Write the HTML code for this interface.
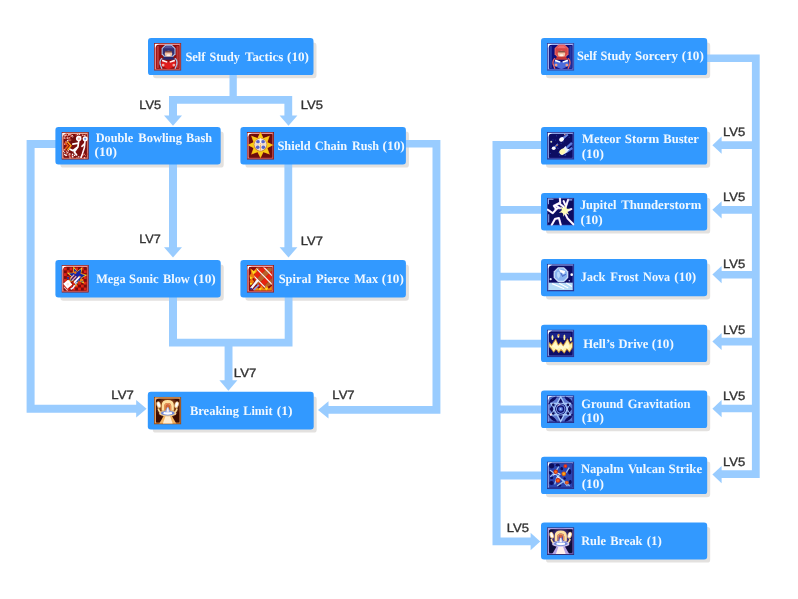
<!DOCTYPE html>
<html lang="en"><head><meta charset="utf-8"><title>Skill Tree</title>
<style>
html,body{margin:0;padding:0;background:#fff;}
body{width:798px;height:599px;overflow:hidden;}
svg{display:block;}
.sk{font-family:"Liberation Serif",serif;font-weight:bold;font-size:12.9px;fill:#fff;fill-opacity:0.93;text-rendering:geometricPrecision;}
.lv{font-family:"Liberation Sans",sans-serif;font-size:12.2px;fill:#333333;stroke:#333;stroke-width:0.35px;text-rendering:geometricPrecision;}
</style></head><body>
<svg width="798" height="599" viewBox="0 0 798 599">
<defs><clipPath id="ic"><rect width="27" height="27"/></clipPath><filter id="soft" x="-5%" y="-5%" width="110%" height="110%"><feGaussianBlur stdDeviation="0.45"/></filter><filter id="shsoft" x="-5%" y="-5%" width="110%" height="110%"><feGaussianBlur stdDeviation="0.7"/></filter><filter id="tsoft" x="-5%" y="-20%" width="110%" height="140%"><feGaussianBlur stdDeviation="0.5"/></filter><filter id="isoft" x="-5%" y="-5%" width="110%" height="110%"><feGaussianBlur stdDeviation="0.65"/></filter></defs>
<rect width="798" height="599" fill="#fff"/>
<g filter="url(#soft)">
<g fill="#e3e1df" filter="url(#shsoft)">
<path d="M156.2,42.6H313.3Q315.06,42.6 315.78,43.32L315.78,43.32Q316.5,44.04 316.5,45.8V75.1Q316.5,76.86 315.78,77.58Q315.06,78.3 313.3,78.3H156.2Q154.44,78.3 153.72,77.58Q153,76.86 153,75.1V45.8Q153,44.04 153.72,43.32Q154.44,42.6 156.2,42.6Z"/>
<path d="M63.6,131.6H220.5Q222.26,131.6 222.98,132.32L222.98,132.32Q223.7,133.04 223.7,134.8V164.4Q223.7,166.16 222.98,166.88Q222.26,167.6 220.5,167.6H63.6Q61.84,167.6 61.12,166.88Q60.4,166.16 60.4,164.4V134.8Q60.4,133.04 61.12,132.32Q61.84,131.6 63.6,131.6Z"/>
<path d="M248.6,131.6H405.7Q407.46,131.6 408.18,132.32L408.18,132.32Q408.9,133.04 408.9,134.8V164.4Q408.9,166.16 408.18,166.88Q407.46,167.6 405.7,167.6H248.6Q246.84,167.6 246.12,166.88Q245.4,166.16 245.4,164.4V134.8Q245.4,133.04 246.12,132.32Q246.84,131.6 248.6,131.6Z"/>
<path d="M63.6,264.6H220.5Q222.26,264.6 222.98,265.32L222.98,265.32Q223.7,266.04 223.7,267.8V297.5Q223.7,299.26 222.98,299.98Q222.26,300.7 220.5,300.7H63.6Q61.84,300.7 61.12,299.98Q60.4,299.26 60.4,297.5V267.8Q60.4,266.04 61.12,265.32Q61.84,264.6 63.6,264.6Z"/>
<path d="M248.6,264.6H405.7Q407.46,264.6 408.18,265.32L408.18,265.32Q408.9,266.04 408.9,267.8V297.5Q408.9,299.26 408.18,299.98Q407.46,300.7 405.7,300.7H248.6Q246.84,300.7 246.12,299.98Q245.4,299.26 245.4,297.5V267.8Q245.4,266.04 246.12,265.32Q246.84,264.6 248.6,264.6Z"/>
<path d="M156,396.4H313.5Q315.26,396.4 315.98,397.12L315.98,397.12Q316.7,397.84 316.7,399.6V429.4Q316.7,431.16 315.98,431.88Q315.26,432.6 313.5,432.6H156Q154.24,432.6 153.52,431.88Q152.8,431.16 152.8,429.4V399.6Q152.8,397.84 153.52,397.12Q154.24,396.4 156,396.4Z"/>
<path d="M549.2,42.6H707Q708.76,42.6 709.48,43.32L709.48,43.32Q710.2,44.04 710.2,45.8V75.1Q710.2,76.86 709.48,77.58Q708.76,78.3 707,78.3H549.2Q547.44,78.3 546.72,77.58Q546,76.86 546,75.1V45.8Q546,44.04 546.72,43.32Q547.44,42.6 549.2,42.6Z"/>
<path d="M549.2,131.6H707Q708.76,131.6 709.48,132.32L709.48,132.32Q710.2,133.04 710.2,134.8V164.6Q710.2,166.36 709.48,167.08Q708.76,167.8 707,167.8H549.2Q547.44,167.8 546.72,167.08Q546,166.36 546,164.6V134.8Q546,133.04 546.72,132.32Q547.44,131.6 549.2,131.6Z"/>
<path d="M549.2,197.7H707Q708.76,197.7 709.48,198.42L709.48,198.42Q710.2,199.14 710.2,200.9V230.4Q710.2,232.16 709.48,232.88Q708.76,233.6 707,233.6H549.2Q547.44,233.6 546.72,232.88Q546,232.16 546,230.4V200.9Q546,199.14 546.72,198.42Q547.44,197.7 549.2,197.7Z"/>
<path d="M549.2,263.6H707Q708.76,263.6 709.48,264.32L709.48,264.32Q710.2,265.04 710.2,266.8V296.2Q710.2,297.96 709.48,298.68Q708.76,299.4 707,299.4H549.2Q547.44,299.4 546.72,298.68Q546,297.96 546,296.2V266.8Q546,265.04 546.72,264.32Q547.44,263.6 549.2,263.6Z"/>
<path d="M549.2,329.4H707Q708.76,329.4 709.48,330.12L709.48,330.12Q710.2,330.84 710.2,332.6V362.1Q710.2,363.86 709.48,364.58Q708.76,365.3 707,365.3H549.2Q547.44,365.3 546.72,364.58Q546,363.86 546,362.1V332.6Q546,330.84 546.72,330.12Q547.44,329.4 549.2,329.4Z"/>
<path d="M549.2,395.2H707Q708.76,395.2 709.48,395.92L709.48,395.92Q710.2,396.64 710.2,398.4V428.1Q710.2,429.86 709.48,430.58Q708.76,431.3 707,431.3H549.2Q547.44,431.3 546.72,430.58Q546,429.86 546,428.1V398.4Q546,396.64 546.72,395.92Q547.44,395.2 549.2,395.2Z"/>
<path d="M549.2,461.4H707Q708.76,461.4 709.48,462.12L709.48,462.12Q710.2,462.84 710.2,464.6V494.1Q710.2,495.86 709.48,496.58Q708.76,497.3 707,497.3H549.2Q547.44,497.3 546.72,496.58Q546,495.86 546,494.1V464.6Q546,462.84 546.72,462.12Q547.44,461.4 549.2,461.4Z"/>
<path d="M549.2,527.1H707Q708.76,527.1 709.48,527.82L709.48,527.82Q710.2,528.54 710.2,530.3V559.4Q710.2,561.16 709.48,561.88Q708.76,562.6 707,562.6H549.2Q547.44,562.6 546.72,561.88Q546,561.16 546,559.4V530.3Q546,528.54 546.72,527.82Q547.44,527.1 549.2,527.1Z"/>
</g>
<g fill="#99ccff">
<path fill-rule="nonzero" d="M229.5,74H236.8V103.8H229.5ZM169,96H292.2V103.8H169ZM169,96H177V116H169ZM284.4,96H292.2V116H284.4ZM169,163H177V248H169ZM284.4,163H292.2V248H284.4ZM169,296H177V346.5H169ZM284.7,296H292.5V346.5H284.7ZM169,338.8H292.5V346.5H169ZM224.6,338.8H232.5V381H224.6ZM26.6,140H56V148H26.6ZM26.6,140H34.6V412.7H26.6ZM26.6,404.8H137V412.7H26.6ZM405,140H440.4V147.6H405ZM432.5,140H440.4V413.8H432.5ZM328,406H440.4V413.8H328ZM706,54.4H759.7V62H706ZM751.9,54.4H759.7V478.1H751.9ZM492.5,141H500.6V545.2H492.5ZM492.5,141H542V149.1H492.5ZM492.5,205.9H542V213.8H492.5ZM492.5,272.8H542V280.6H492.5ZM492.5,339.8H542V347.5H492.5ZM492.5,405.6H542V413.5H492.5ZM492.5,471.5H542V479.4H492.5ZM492.5,537.5H531V545.2H492.5ZM721,141.2H759.7V149H721ZM721,206H759.7V213.8H721ZM721,270.9H759.7V278.5H721ZM721,337.8H759.7V345.4H721ZM721,404.8H759.7V412.3H721ZM721,470.3H759.7V478.1H721Z"/>
<polygon points="164,115.6 182,115.6 173,125.8"/>
<polygon points="279.6,115.6 297.4,115.6 288.5,125.8"/>
<polygon points="164,247.2 182,247.2 173,257.6"/>
<polygon points="279.6,247.2 297.4,247.2 288.5,257.6"/>
<polygon points="219.4,380.2 237.4,380.2 228.4,390.8"/>
<polygon points="136.2,400 136.2,417.5 146.6,408.75"/>
<polygon points="530.6,532.7 530.6,550.3 540.2,541.5"/>
<polygon points="328.5,401.2 328.5,418.6 318,409.9"/>
<polygon points="721.6,136.5 721.6,153.8 712.4,145.15"/>
<polygon points="721.6,201.2 721.6,218.5 712.4,209.85"/>
<polygon points="721.6,266 721.6,283.2 712.4,274.6"/>
<polygon points="721.6,333 721.6,350.1 712.4,341.55"/>
<polygon points="721.6,400 721.6,417.3 712.4,408.65"/>
<polygon points="721.6,466 721.6,483.2 712.4,474.6"/>
</g>
<g fill="#3399ff">
<path d="M151.2,38H310.3Q312.06,38 312.78,38.72L312.78,38.72Q313.5,39.44 313.5,41.2V71.9Q313.5,73.66 312.78,74.38Q312.06,75.1 310.3,75.1H151.2Q149.44,75.1 148.72,74.38Q148,73.66 148,71.9V41.2Q148,39.44 148.72,38.72Q149.44,38 151.2,38Z"/>
<path d="M58.6,127H217.5Q219.26,127 219.98,127.72L219.98,127.72Q220.7,128.44 220.7,130.2V161.2Q220.7,162.96 219.98,163.68Q219.26,164.4 217.5,164.4H58.6Q56.84,164.4 56.12,163.68Q55.4,162.96 55.4,161.2V130.2Q55.4,128.44 56.12,127.72Q56.84,127 58.6,127Z"/>
<path d="M243.6,127H402.7Q404.46,127 405.18,127.72L405.18,127.72Q405.9,128.44 405.9,130.2V161.2Q405.9,162.96 405.18,163.68Q404.46,164.4 402.7,164.4H243.6Q241.84,164.4 241.12,163.68Q240.4,162.96 240.4,161.2V130.2Q240.4,128.44 241.12,127.72Q241.84,127 243.6,127Z"/>
<path d="M58.6,260H217.5Q219.26,260 219.98,260.72L219.98,260.72Q220.7,261.44 220.7,263.2V294.3Q220.7,296.06 219.98,296.78Q219.26,297.5 217.5,297.5H58.6Q56.84,297.5 56.12,296.78Q55.4,296.06 55.4,294.3V263.2Q55.4,261.44 56.12,260.72Q56.84,260 58.6,260Z"/>
<path d="M243.6,260H402.7Q404.46,260 405.18,260.72L405.18,260.72Q405.9,261.44 405.9,263.2V294.3Q405.9,296.06 405.18,296.78Q404.46,297.5 402.7,297.5H243.6Q241.84,297.5 241.12,296.78Q240.4,296.06 240.4,294.3V263.2Q240.4,261.44 241.12,260.72Q241.84,260 243.6,260Z"/>
<path d="M151,391.8H310.5Q312.26,391.8 312.98,392.52L312.98,392.52Q313.7,393.24 313.7,395V426.2Q313.7,427.96 312.98,428.68Q312.26,429.4 310.5,429.4H151Q149.24,429.4 148.52,428.68Q147.8,427.96 147.8,426.2V395Q147.8,393.24 148.52,392.52Q149.24,391.8 151,391.8Z"/>
<path d="M544.2,38H704Q705.76,38 706.48,38.72L706.48,38.72Q707.2,39.44 707.2,41.2V71.9Q707.2,73.66 706.48,74.38Q705.76,75.1 704,75.1H544.2Q542.44,75.1 541.72,74.38Q541,73.66 541,71.9V41.2Q541,39.44 541.72,38.72Q542.44,38 544.2,38Z"/>
<path d="M544.2,127H704Q705.76,127 706.48,127.72L706.48,127.72Q707.2,128.44 707.2,130.2V161.4Q707.2,163.16 706.48,163.88Q705.76,164.6 704,164.6H544.2Q542.44,164.6 541.72,163.88Q541,163.16 541,161.4V130.2Q541,128.44 541.72,127.72Q542.44,127 544.2,127Z"/>
<path d="M544.2,193.1H704Q705.76,193.1 706.48,193.82L706.48,193.82Q707.2,194.54 707.2,196.3V227.2Q707.2,228.96 706.48,229.68Q705.76,230.4 704,230.4H544.2Q542.44,230.4 541.72,229.68Q541,228.96 541,227.2V196.3Q541,194.54 541.72,193.82Q542.44,193.1 544.2,193.1Z"/>
<path d="M544.2,259H704Q705.76,259 706.48,259.72L706.48,259.72Q707.2,260.44 707.2,262.2V293Q707.2,294.76 706.48,295.48Q705.76,296.2 704,296.2H544.2Q542.44,296.2 541.72,295.48Q541,294.76 541,293V262.2Q541,260.44 541.72,259.72Q542.44,259 544.2,259Z"/>
<path d="M544.2,324.8H704Q705.76,324.8 706.48,325.52L706.48,325.52Q707.2,326.24 707.2,328V358.9Q707.2,360.66 706.48,361.38Q705.76,362.1 704,362.1H544.2Q542.44,362.1 541.72,361.38Q541,360.66 541,358.9V328Q541,326.24 541.72,325.52Q542.44,324.8 544.2,324.8Z"/>
<path d="M544.2,390.6H704Q705.76,390.6 706.48,391.32L706.48,391.32Q707.2,392.04 707.2,393.8V424.9Q707.2,426.66 706.48,427.38Q705.76,428.1 704,428.1H544.2Q542.44,428.1 541.72,427.38Q541,426.66 541,424.9V393.8Q541,392.04 541.72,391.32Q542.44,390.6 544.2,390.6Z"/>
<path d="M544.2,456.8H704Q705.76,456.8 706.48,457.52L706.48,457.52Q707.2,458.24 707.2,460V490.9Q707.2,492.66 706.48,493.38Q705.76,494.1 704,494.1H544.2Q542.44,494.1 541.72,493.38Q541,492.66 541,490.9V460Q541,458.24 541.72,457.52Q542.44,456.8 544.2,456.8Z"/>
<path d="M544.2,522.5H704Q705.76,522.5 706.48,523.22L706.48,523.22Q707.2,523.94 707.2,525.7V556.2Q707.2,557.96 706.48,558.68Q705.76,559.4 704,559.4H544.2Q542.44,559.4 541.72,558.68Q541,557.96 541,556.2V525.7Q541,523.94 541.72,523.22Q542.44,522.5 544.2,522.5Z"/>
</g>
</g>
<g transform="translate(154,43) scale(1.012,1.024)" filter="url(#isoft)"><g clip-path="url(#ic)"><rect width="27" height="27" fill="#8a2020"/><rect x="0.8" y="0.8" width="25.4" height="25.4" fill="#c85858"/><path d="M0.8,0.8h25.4l-1.2,1.2h-23v23l-1.2,1.2z" fill="#ec9090"/><rect x="1.9" y="1.9" width="23.2" height="23.2" rx="1" fill="#8c0a0a"/><path d="M0.9,0.9h4.2l-2.6,1.4l-1.6,2.6z" fill="#ffffff"/><rect x="2.6" y="3" width="2.2" height="21.4" fill="#bc3434"/><rect x="22.2" y="3" width="2.2" height="21.4" fill="#bc3434"/><path d="M11.4,1.5h6l3.9,3.7v5.8l-2.5,2.6h-8.8l-2.5,-2.6v-5.8z" fill="#a8c2ea"/><path d="M11.8,2.6h5.2l3.2,3v5l-1.8,1.8h-8l-1.8,-1.8v-5z" fill="#332e70"/><path d="M12,3h4.8l2.4,2.2h-9.6z" fill="#55529a"/><ellipse cx="14.3" cy="10.6" rx="3.7" ry="3.1" fill="#f2c2a2"/><rect x="11" y="7.9" width="6.8" height="1.4" rx="0.6" fill="#7c4646"/><ellipse cx="14.3" cy="12" rx="2" ry="0.9" fill="#fff2ea"/><path d="M9.8,13.4h9l1.6,3h-12.2z" fill="#2c2c6c"/><path d="M8,14.8q-2.8,2.2-1.9,6l1.7,4.4M20.6,14.8q2.8,2.2,1.9,6l-1.7,4.4" stroke="#a8c2ea" stroke-width="1.3" fill="none"/><path d="M7.8,16.3l6.5,2.6l6.5,-2.6l1.1,5.9l-7.6,3.5l-7.6,-3.5z" fill="#e01c1c"/><path d="M8.2,16l5.2,2l-0.6,1.4l-5,-1.6zM20.4,16l-5.2,2l0.6,1.4l5,-1.6z" fill="#fff2f2"/><circle cx="9" cy="21.6" r="1.4" fill="#f0b0a8"/><circle cx="19.6" cy="21.6" r="1.4" fill="#f0b0a8"/></g></g>
<g transform="translate(61.5,132) scale(1.012,1.024)" filter="url(#isoft)"><g clip-path="url(#ic)"><rect width="27" height="27" fill="#7c1414"/><rect x="0.8" y="0.8" width="25.4" height="25.4" fill="#d07060"/><path d="M0.8,0.8h25.4l-1.2,1.2h-23v23l-1.2,1.2z" fill="#eea898"/><rect x="1.9" y="1.9" width="23.2" height="23.2" rx="1" fill="#7a0a0a"/><path d="M0.9,0.9h4.2l-2.6,1.4l-1.6,2.6z" fill="#ffffff"/><rect x="4.6" y="2.5" width="0.9" height="0.9" fill="#ffffff"/><rect x="9.3" y="2.1" width="0.9" height="0.9" fill="#c84038"/><rect x="10.1" y="2.9" width="1.1" height="1.1" fill="#ffffff"/><rect x="5.5" y="3.1" width="1.1" height="1.1" fill="#c84038"/><rect x="2.1" y="5.2" width="1.4" height="1.4" fill="#f8c0b8"/><rect x="7.5" y="7.7" width="1.4" height="1.4" fill="#c84038"/><rect x="5.3" y="7.8" width="1.4" height="1.4" fill="#ffffff"/><rect x="9.7" y="3.4" width="1.4" height="1.4" fill="#f8c0b8"/><rect x="2.6" y="3.5" width="0.9" height="0.9" fill="#f8c0b8"/><rect x="7.0" y="5.7" width="0.9" height="0.9" fill="#e89080"/><rect x="6.7" y="1.9" width="1.4" height="1.4" fill="#ffffff"/><rect x="3.5" y="5.9" width="1.1" height="1.1" fill="#d85848"/><rect x="5.9" y="7.5" width="1.1" height="1.1" fill="#e89080"/><rect x="3.9" y="2.7" width="0.9" height="0.9" fill="#f8c0b8"/><rect x="7.0" y="4.9" width="1.4" height="1.4" fill="#e89080"/><rect x="5.8" y="5.5" width="0.9" height="0.9" fill="#ffffff"/><rect x="6.4" y="2.6" width="0.9" height="0.9" fill="#e89080"/><rect x="10.4" y="4.2" width="1.4" height="1.4" fill="#ffffff"/><rect x="6.9" y="7.2" width="1.1" height="1.1" fill="#e89080"/><rect x="8.1" y="5.4" width="1.1" height="1.1" fill="#c84038"/><rect x="2.2" y="2.1" width="1.1" height="1.1" fill="#e89080"/><rect x="8.1" y="1.9" width="1.4" height="1.4" fill="#e89080"/><rect x="7.0" y="5.9" width="1.1" height="1.1" fill="#d85848"/><rect x="8.3" y="7.3" width="0.9" height="0.9" fill="#e89080"/><rect x="10.4" y="3.8" width="0.9" height="0.9" fill="#c84038"/><rect x="6.2" y="2.9" width="0.9" height="0.9" fill="#e89080"/><rect x="8.5" y="4.1" width="0.9" height="0.9" fill="#d85848"/><rect x="3.1" y="4.1" width="0.9" height="0.9" fill="#e89080"/><rect x="9.3" y="7.1" width="1.4" height="1.4" fill="#e89080"/><rect x="5.4" y="3.8" width="0.9" height="0.9" fill="#d85848"/><rect x="2.9" y="2.6" width="1.4" height="1.4" fill="#f8c0b8"/><rect x="3.7" y="4.7" width="0.9" height="0.9" fill="#c84038"/><rect x="4.0" y="1.5" width="1.4" height="1.4" fill="#d85848"/><rect x="5.0" y="5.2" width="1.4" height="1.4" fill="#f8c0b8"/><rect x="7.9" y="24.6" width="1.1" height="1.1" fill="#ffffff"/><rect x="8.2" y="23.2" width="1.1" height="1.1" fill="#c84038"/><rect x="4.5" y="20.2" width="1.4" height="1.4" fill="#d85848"/><rect x="4.5" y="18.5" width="1.1" height="1.1" fill="#f8c0b8"/><rect x="2.7" y="19.7" width="0.9" height="0.9" fill="#ffffff"/><rect x="1.5" y="18.2" width="1.1" height="1.1" fill="#ffffff"/><rect x="6.1" y="17.6" width="1.4" height="1.4" fill="#f8c0b8"/><rect x="4.3" y="22.1" width="1.4" height="1.4" fill="#e89080"/><rect x="4.2" y="18.0" width="1.1" height="1.1" fill="#d85848"/><rect x="5.1" y="19.5" width="0.9" height="0.9" fill="#f8c0b8"/><rect x="7.1" y="22.9" width="1.4" height="1.4" fill="#d85848"/><rect x="2.7" y="17.2" width="1.1" height="1.1" fill="#c84038"/><rect x="2.6" y="21.3" width="1.4" height="1.4" fill="#ffffff"/><rect x="3.7" y="22.1" width="1.4" height="1.4" fill="#ffffff"/><rect x="7.8" y="21.1" width="1.1" height="1.1" fill="#f8c0b8"/><rect x="7.3" y="21.3" width="1.1" height="1.1" fill="#c84038"/><rect x="6.3" y="21.9" width="0.9" height="0.9" fill="#f8c0b8"/><rect x="7.6" y="22.9" width="0.9" height="0.9" fill="#f8c0b8"/><rect x="5.4" y="19.8" width="0.9" height="0.9" fill="#ffffff"/><rect x="7.4" y="20.8" width="1.4" height="1.4" fill="#f8c0b8"/><rect x="6.0" y="19.8" width="1.1" height="1.1" fill="#e89080"/><rect x="2.1" y="17.8" width="0.9" height="0.9" fill="#d85848"/><rect x="13.7" y="22.9" width="0.9" height="0.9" fill="#c84038"/><rect x="16.2" y="23.6" width="1.4" height="1.4" fill="#ffffff"/><rect x="10.0" y="22.6" width="1.1" height="1.1" fill="#f8c0b8"/><rect x="23.1" y="22.7" width="0.9" height="0.9" fill="#e89080"/><rect x="21.6" y="24.9" width="1.1" height="1.1" fill="#d85848"/><rect x="14.8" y="24.8" width="0.9" height="0.9" fill="#f8c0b8"/><rect x="24.9" y="21.1" width="1.1" height="1.1" fill="#c84038"/><rect x="21.7" y="21.6" width="1.1" height="1.1" fill="#c84038"/><rect x="19.2" y="22.4" width="1.4" height="1.4" fill="#c84038"/><rect x="10.2" y="21.1" width="1.4" height="1.4" fill="#ffffff"/><rect x="20.7" y="21.6" width="0.9" height="0.9" fill="#f8c0b8"/><rect x="8.5" y="21.9" width="0.9" height="0.9" fill="#c84038"/><rect x="21.0" y="22.3" width="1.1" height="1.1" fill="#c84038"/><rect x="22.2" y="21.2" width="1.1" height="1.1" fill="#e89080"/><rect x="19.3" y="24.3" width="1.1" height="1.1" fill="#c84038"/><rect x="22.1" y="24.5" width="1.4" height="1.4" fill="#f8c0b8"/><rect x="10.6" y="23.0" width="0.9" height="0.9" fill="#d85848"/><rect x="18.3" y="24.1" width="0.9" height="0.9" fill="#f8c0b8"/><rect x="10.4" y="23.5" width="1.4" height="1.4" fill="#ffffff"/><rect x="9.0" y="23.7" width="1.4" height="1.4" fill="#c84038"/><rect x="16.2" y="24.1" width="0.9" height="0.9" fill="#c84038"/><rect x="12.2" y="22.1" width="1.4" height="1.4" fill="#ffffff"/><rect x="17.3" y="1.6" width="1.1" height="1.1" fill="#ffffff"/><rect x="15.6" y="3.9" width="1.4" height="1.4" fill="#c84038"/><rect x="13.8" y="2.2" width="1.4" height="1.4" fill="#c84038"/><rect x="22.3" y="2.8" width="1.4" height="1.4" fill="#f8c0b8"/><rect x="18.3" y="3.7" width="1.4" height="1.4" fill="#e89080"/><rect x="23.5" y="2.0" width="0.9" height="0.9" fill="#d85848"/><rect x="16.8" y="2.5" width="0.9" height="0.9" fill="#e89080"/><rect x="20.4" y="2.6" width="1.4" height="1.4" fill="#f8c0b8"/><rect x="15.2" y="1.8" width="1.4" height="1.4" fill="#f8c0b8"/><rect x="20.0" y="2.4" width="0.9" height="0.9" fill="#e89080"/><rect x="3.9" y="10.0" width="1.1" height="1.1" fill="#ffffff"/><rect x="3.7" y="9.5" width="0.9" height="0.9" fill="#f8c0b8"/><rect x="3.3" y="16.9" width="1.1" height="1.1" fill="#d85848"/><rect x="2.6" y="11.2" width="1.4" height="1.4" fill="#ffffff"/><rect x="2.4" y="11.0" width="1.1" height="1.1" fill="#d85848"/><rect x="3.3" y="11.5" width="1.4" height="1.4" fill="#c84038"/><rect x="2.2" y="16.6" width="0.9" height="0.9" fill="#ffffff"/><rect x="3.9" y="8.9" width="1.1" height="1.1" fill="#e89080"/><path d="M9,6q5,-3 9,-1l-4,6l-4,1z" fill="#6a0606" opacity="0.8"/><path d="M3.4,10l3,3.4l-3,3.4" stroke="#f05a10" stroke-width="1.5" fill="none"/><path d="M5.8,9.2l3.6,4.2l-3.6,4.2" stroke="#f8a418" stroke-width="1.4" fill="none"/><circle cx="17" cy="6.4" r="2.7" fill="#ffffff"/><circle cx="17.1" cy="6.6" r="1.2" fill="#f0b0a8"/><path d="M17,9l-0.8,5.6l-3.6,4.8l2.4,3M16.4,10.8l-5.2,1M16,14.6l-4.8,3.6l-2.8,-1.4" stroke="#ffffff" stroke-width="1.7" fill="none" stroke-linecap="round" stroke-linejoin="round"/><circle cx="23.4" cy="6.6" r="2.5" fill="#ffffff"/><circle cx="23.4" cy="6.6" r="1.1" fill="#7898e8"/><path d="M23.2,9l-0.6,6.4l-2,6l-1.2,3.2M22.8,11.4l-2.6,2.6" stroke="#fff4f4" stroke-width="1.6" fill="none" stroke-linecap="round" stroke-linejoin="round"/></g></g>
<g transform="translate(246.8,132) scale(1.012,1.024)" filter="url(#isoft)"><g clip-path="url(#ic)"><rect width="27" height="27" fill="#7c1818"/><rect x="0.8" y="0.8" width="25.4" height="25.4" fill="#c05050"/><path d="M0.8,0.8h25.4l-1.2,1.2h-23v23l-1.2,1.2z" fill="#e89090"/><rect x="1.9" y="1.9" width="23.2" height="23.2" rx="1" fill="#6c0808"/><path d="M0.9,0.9h4.2l-2.6,1.4l-1.6,2.6z" fill="#ffffff"/><polygon points="13.5,-0.6 16.4,5.8 23.0,3.3 20.5,9.9 26.9,12.8 20.5,15.7 23.0,22.3 16.4,19.8 13.5,26.2 10.6,19.8 4.0,22.3 6.5,15.7 0.1,12.8 6.5,9.9 4.0,3.3 10.6,5.8" fill="#e07c10"/><polygon points="13.5,0.6 16.3,6.1 22.1,4.2 20.2,10.0 25.7,12.8 20.2,15.6 22.1,21.4 16.3,19.5 13.5,25.0 10.7,19.5 4.9,21.4 6.8,15.6 1.3,12.8 6.8,10.0 4.9,4.2 10.7,6.1" fill="#f8cc18"/><circle cx="13.5" cy="12.4" r="6.6" fill="#c87830"/><circle cx="13.5" cy="12.3" r="6" fill="#f2e0cc"/><ellipse cx="11.1" cy="9.4" rx="1.9" ry="1.7" fill="#5464cc"/><ellipse cx="16" cy="9.4" rx="1.9" ry="1.7" fill="#5464cc"/><ellipse cx="10.8" cy="15" rx="1.9" ry="1.7" fill="#5464cc"/><ellipse cx="16.3" cy="15" rx="1.9" ry="1.7" fill="#5464cc"/><rect x="12.8" y="6.2" width="1.5" height="12.4" fill="#fff8ee"/><rect x="13.2" y="11" width="0.8" height="7.4" fill="#f0a050"/><rect x="8" y="11.8" width="11" height="0.9" fill="#f4dcc0"/></g></g>
<g transform="translate(61.5,265) scale(1.012,1.024)" filter="url(#isoft)"><g clip-path="url(#ic)"><rect width="27" height="27" fill="#8a1c1c"/><rect x="0.8" y="0.8" width="25.4" height="25.4" fill="#c85858"/><path d="M0.8,0.8h25.4l-1.2,1.2h-23v23l-1.2,1.2z" fill="#ec9494"/><rect x="1.9" y="1.9" width="23.2" height="23.2" rx="1" fill="#7a0c0c"/><path d="M0.9,0.9h4.2l-2.6,1.4l-1.6,2.6z" fill="#ffffff"/><rect x="2.4" y="2.4" width="2.8" height="2.8" fill="#e02414"/><rect x="2.4" y="8.0" width="2.8" height="2.8" fill="#e02414"/><rect x="2.4" y="13.6" width="2.8" height="2.8" fill="#e02414"/><rect x="2.4" y="19.2" width="2.8" height="2.8" fill="#e02414"/><rect x="5.2" y="5.2" width="2.8" height="2.8" fill="#e02414"/><rect x="5.2" y="10.8" width="2.8" height="2.8" fill="#e02414"/><rect x="5.2" y="16.4" width="2.8" height="2.8" fill="#e02414"/><rect x="5.2" y="22.0" width="2.8" height="2.8" fill="#e02414"/><rect x="8.0" y="2.4" width="2.8" height="2.8" fill="#e02414"/><rect x="8.0" y="8.0" width="2.8" height="2.8" fill="#e02414"/><rect x="8.0" y="13.6" width="2.8" height="2.8" fill="#e02414"/><rect x="8.0" y="19.2" width="2.8" height="2.8" fill="#e02414"/><rect x="10.8" y="5.2" width="2.8" height="2.8" fill="#e02414"/><rect x="10.8" y="10.8" width="2.8" height="2.8" fill="#e02414"/><rect x="10.8" y="16.4" width="2.8" height="2.8" fill="#e02414"/><rect x="10.8" y="22.0" width="2.8" height="2.8" fill="#e02414"/><rect x="13.6" y="2.4" width="2.8" height="2.8" fill="#e02414"/><rect x="13.6" y="8.0" width="2.8" height="2.8" fill="#e02414"/><rect x="13.6" y="13.6" width="2.8" height="2.8" fill="#e02414"/><rect x="13.6" y="19.2" width="2.8" height="2.8" fill="#e02414"/><rect x="16.4" y="5.2" width="2.8" height="2.8" fill="#e02414"/><rect x="16.4" y="10.8" width="2.8" height="2.8" fill="#e02414"/><rect x="16.4" y="16.4" width="2.8" height="2.8" fill="#e02414"/><rect x="16.4" y="22.0" width="2.8" height="2.8" fill="#e02414"/><rect x="19.2" y="2.4" width="2.8" height="2.8" fill="#e02414"/><rect x="19.2" y="8.0" width="2.8" height="2.8" fill="#e02414"/><rect x="19.2" y="13.6" width="2.8" height="2.8" fill="#e02414"/><rect x="19.2" y="19.2" width="2.8" height="2.8" fill="#e02414"/><rect x="22.0" y="5.2" width="2.8" height="2.8" fill="#e02414"/><rect x="22.0" y="10.8" width="2.8" height="2.8" fill="#e02414"/><rect x="22.0" y="16.4" width="2.8" height="2.8" fill="#e02414"/><rect x="22.0" y="22.0" width="2.8" height="2.8" fill="#e02414"/><polygon points="20.7,2.0 19.4,8.3 25.7,9.7 19.9,12.6 22.8,18.4 16.9,15.7 14.1,21.5 12.6,15.3 6.3,16.7 10.2,11.6 5.2,7.6 11.6,7.5 11.6,1.0 15.7,6.0" fill="#f8d424"/><polygon points="19.5,4.0 18.9,8.6 23.3,10.0 19.4,12.4 21.1,16.7 16.7,15.1 14.4,19.2 12.9,14.8 8.3,15.4 10.8,11.5 7.4,8.4 12.1,7.9 12.4,3.3 15.6,6.6" fill="#1420a4"/><circle cx="13.6" cy="7.4" r="1.3" fill="#f07810"/><circle cx="19.4" cy="14.6" r="1.3" fill="#f08010"/><circle cx="6.4" cy="12.6" r="1.1" fill="#2030a0"/><path d="M8.8,13.2l3.8,-3.8M10.4,15.2l4.2,-4.2" stroke="#e8b0b8" stroke-width="1.2" fill="none"/><path d="M9.6,14.2l4,-4M11.4,16l4,-4" stroke="#901818" stroke-width="0.9" fill="none"/><path d="M12.4,17.2l5.6,-5.8" stroke="#ffffff" stroke-width="1.7" fill="none"/><circle cx="18" cy="11.4" r="0.9" fill="#f8a060"/><path d="M13.4,18.6l2,-2" stroke="#b8c8f0" stroke-width="1.4" fill="none"/><rect x="3" y="15.5" width="6.4" height="6.4" transform="rotate(-40 6.2 18.7)" fill="#ffffff"/><rect x="5" y="17.5" width="2.4" height="2.4" transform="rotate(-40 6.2 18.7)" fill="#ffe4dc"/><path d="M9,23.6l2.6,-1.4l1.4,-2.6" stroke="#f0ecff" stroke-width="1.6" fill="none"/><path d="M2.6,21.6l3.4,3.4" stroke="#f0c0c0" stroke-width="1" fill="none"/></g></g>
<g transform="translate(246.8,265) scale(1.012,1.024)" filter="url(#isoft)"><g clip-path="url(#ic)"><rect width="27" height="27" fill="#8a1a1a"/><rect x="0.8" y="0.8" width="25.4" height="25.4" fill="#d06060"/><path d="M0.8,0.8h25.4l-1.2,1.2h-23v23l-1.2,1.2z" fill="#f0a0a0"/><rect x="1.9" y="1.9" width="23.2" height="23.2" rx="1" fill="#8a0c0c"/><path d="M0.9,0.9h4.2l-2.6,1.4l-1.6,2.6z" fill="#ffffff"/><defs><clipPath id="spc"><path d="M9.6,2.4h15.2v16.6l-6.4,3.4l-8,-2l-3.6,-7.6l1.6,-7z"/></clipPath></defs><g clip-path="url(#spc)"><g transform="rotate(45 13.5 13.5)"><rect x="0.9" y="-2.4" width="5" height="5.6" fill="#b8602c"/><rect x="5.9" y="-2.4" width="5" height="5.6" fill="#e82410"/><rect x="10.9" y="-2.4" width="5" height="5.6" fill="#b8602c"/><rect x="15.9" y="-2.4" width="5" height="5.6" fill="#e82410"/><rect x="20.9" y="-2.4" width="5" height="5.6" fill="#b8602c"/><rect x="25.9" y="-2.4" width="5" height="5.6" fill="#e82410"/><rect x="0.9" y="3.7" width="5" height="5.6" fill="#b8602c"/><rect x="5.9" y="3.7" width="5" height="5.6" fill="#e82410"/><rect x="10.9" y="3.7" width="5" height="5.6" fill="#b8602c"/><rect x="15.9" y="3.7" width="5" height="5.6" fill="#e82410"/><rect x="20.9" y="3.7" width="5" height="5.6" fill="#b8602c"/><rect x="25.9" y="3.7" width="5" height="5.6" fill="#e82410"/><rect x="0.9" y="9.9" width="5" height="5.6" fill="#b8602c"/><rect x="5.9" y="9.9" width="5" height="5.6" fill="#e82410"/><rect x="10.9" y="9.9" width="5" height="5.6" fill="#b8602c"/><rect x="15.9" y="9.9" width="5" height="5.6" fill="#e82410"/><rect x="20.9" y="9.9" width="5" height="5.6" fill="#b8602c"/><rect x="25.9" y="9.9" width="5" height="5.6" fill="#e82410"/><rect x="0.9" y="16.6" width="5" height="5.6" fill="#b8602c"/><rect x="5.9" y="16.6" width="5" height="5.6" fill="#e82410"/><rect x="10.9" y="16.6" width="5" height="5.6" fill="#b8602c"/><rect x="15.9" y="16.6" width="5" height="5.6" fill="#e82410"/><rect x="20.9" y="16.6" width="5" height="5.6" fill="#b8602c"/><rect x="25.9" y="16.6" width="5" height="5.6" fill="#e82410"/><rect x="3" y="2.65" width="24" height="1.2" fill="#fff4f0"/><rect x="3" y="8.700000000000001" width="24" height="1.2" fill="#fff4f0"/><rect x="3" y="15.6" width="24" height="1.2" fill="#fff4f0"/></g></g><path d="M2.2,2.2h7l-3,4l-1,6l-1,6l2,6.6h-4z" fill="#8a0c0c"/><path d="M3.4,3.2l3.6,2.6l2.6,-3.2l0.6,4l-3,2.4l0.6,3l-2.4,1.6l2,2.8l-2.6,2.4l-2,-2.6l1.4,-3l-1.6,-2.6l1.8,-2.6z" fill="#f07a10"/><path d="M4.4,4.2l2.6,2.2l1.8,-2l-0.2,2.6l-2.4,2zM2.8,11l2.8,1.4l-2.2,1.8zM3,17l2.8,1l-2.2,2z" fill="#fce020"/><path d="M7,25l2.4,-4l2.6,2.6l2.4,-3.6l2.8,3.4l2.4,-3.4l2.2,3.2l3,-3v4.8z" fill="#f08a10"/><path d="M11.4,22.6l1.8,2.4l1.6,-2.6zM17.6,22.4l1.8,2.6l1.8,-2.8z" fill="#fcd820"/><path d="M4.2,23l6.8,-8.4" stroke="#f4f8ff" stroke-width="2.2" fill="none"/><path d="M6.6,24.4l5.4,-5" stroke="#8c98e4" stroke-width="1.6" fill="none"/><circle cx="4.4" cy="23.2" r="1" fill="#3040a8"/></g></g>
<g transform="translate(154,396.8) scale(1.012,1.024)" filter="url(#isoft)"><g clip-path="url(#ic)"><rect width="27" height="27" fill="#8c4418"/><rect x="0.8" y="0.8" width="25.4" height="25.4" fill="#b87034"/><path d="M0.8,0.8h25.4l-1.2,1.2h-23v23l-1.2,1.2z" fill="#e8ac70"/><rect x="1.9" y="1.9" width="23.2" height="23.2" rx="1" fill="#3a0c06"/><path d="M0.9,0.9h4.2l-2.6,1.4l-1.6,2.6z" fill="#e8ac70"/><defs><radialGradient id="glF" cx="0.5" cy="0.45" r="0.5"><stop offset="0" stop-color="#d87c28" stop-opacity="0.95"/><stop offset="0.6" stop-color="#d87c28" stop-opacity="0.55"/><stop offset="1" stop-color="#d87c28" stop-opacity="0"/></radialGradient></defs><ellipse cx="13.5" cy="11.5" rx="12" ry="11" fill="url(#glF)"/><path d="M10.2,17.5h6.8l5,8.6h-16.8z" fill="#f4b460"/><path d="M11.8,17.5h3.6l3,8.6h-9.6z" fill="#ffecd0"/><path d="M7.6,13.6v-5.4q0,-5 6,-5q6,0 6,5v5.4h-2.6v-4.6q0,-3 -3.4,-3q-3.4,0 -3.4,3v4.6z" fill="#ffe0a0"/><path d="M10.2,13v-4q0,-3 3.4,-3q3.4,0 3.4,3v4h-1.2v-3.4q0,-2.2-2.2,-2.2q-2.2,0-2.2,2.2v3.4z" fill="#e89058"/><ellipse cx="4.6" cy="7.8" rx="2.1" ry="3.4" transform="rotate(-18 4.6 7.8)" fill="#e8c088"/><ellipse cx="22.4" cy="7.8" rx="2.1" ry="3.4" transform="rotate(18 22.4 7.8)" fill="#e8c088"/><ellipse cx="4.6" cy="7.6" rx="1.3" ry="2.5" transform="rotate(-18 4.6 7.6)" fill="#ffffff"/><ellipse cx="22.4" cy="7.6" rx="1.3" ry="2.5" transform="rotate(18 22.4 7.6)" fill="#ffffff"/><path d="M4.2,11.4q1,4.2 4.6,5M22.8,11.4q-1,4.2-4.6,5" stroke="#f8dc98" stroke-width="1.6" fill="none"/><ellipse cx="13.6" cy="16.2" rx="8.6" ry="3" fill="#f0cc90"/><ellipse cx="13.6" cy="16" rx="6.8" ry="2.2" fill="#7088d8"/><ellipse cx="13.6" cy="16.1" rx="4.4" ry="1.4" fill="#ffffff"/><path d="M13.6,8.4l2.8,6.6h-5.6z" fill="#8ca4e8"/><path d="M13.6,9.2l1.3,5.4h-2.6z" fill="#fff4f0"/><circle cx="13.6" cy="9" r="1.4" fill="#d46040"/></g></g>
<g transform="translate(547,43) scale(1.012,1.024)" filter="url(#isoft)"><g clip-path="url(#ic)"><rect width="27" height="27" fill="#343a94"/><rect x="0.8" y="0.8" width="25.4" height="25.4" fill="#5868c8"/><path d="M0.8,0.8h25.4l-1.2,1.2h-23v23l-1.2,1.2z" fill="#a8b8f4"/><rect x="1.9" y="1.9" width="23.2" height="23.2" rx="1" fill="#0c0c7c"/><path d="M0.9,0.9h4.2l-2.6,1.4l-1.6,2.6z" fill="#ffffff"/><rect x="2.6" y="3" width="2.2" height="21.4" fill="#2838a4"/><rect x="22.2" y="3" width="2.2" height="21.4" fill="#2838a4"/><path d="M11.4,1.5h6l3.9,3.7v5.8l-2.5,2.6h-8.8l-2.5,-2.6v-5.8z" fill="#e86464"/><path d="M11.8,2.6h5.2l3.2,3v5l-1.8,1.8h-8l-1.8,-1.8v-5z" fill="#d44444"/><path d="M12,3h4.8l2.4,2.2h-9.6z" fill="#f06c6c"/><ellipse cx="14.3" cy="10.6" rx="3.7" ry="3.1" fill="#f2c2a2"/><rect x="11" y="7.9" width="6.8" height="1.4" rx="0.6" fill="#8a5040"/><ellipse cx="14.3" cy="12" rx="2" ry="0.9" fill="#fff2ea"/><path d="M9.8,13.4h9l1.6,3h-12.2z" fill="#c43434"/><path d="M8,14.8q-2.8,2.2-1.9,6l1.7,4.4M20.6,14.8q2.8,2.2,1.9,6l-1.7,4.4" stroke="#e86464" stroke-width="1.3" fill="none"/><path d="M7.8,16.3l6.5,2.6l6.5,-2.6l1.1,5.9l-7.6,3.5l-7.6,-3.5z" fill="#4c6cdc"/><path d="M8.2,16l5.2,2l-0.6,1.4l-5,-1.6zM20.4,16l-5.2,2l0.6,1.4l5,-1.6z" fill="#ffffff"/><circle cx="9" cy="21.6" r="1.4" fill="#f4a080"/><circle cx="19.6" cy="21.6" r="1.4" fill="#f4a080"/></g></g>
<g transform="translate(547,132) scale(1.012,1.024)" filter="url(#isoft)"><g clip-path="url(#ic)"><rect width="27" height="27" fill="#262c88"/><rect x="0.8" y="0.8" width="25.4" height="25.4" fill="#3444a4"/><path d="M0.8,0.8h25.4l-1.2,1.2h-23v23l-1.2,1.2z" fill="#8ca0e4"/><rect x="1.9" y="1.9" width="23.2" height="23.2" rx="1" fill="#0a0a62"/><path d="M0.9,0.9h4.2l-2.6,1.4l-1.6,2.6z" fill="#ffffff"/><rect x="7.6" y="14.2" width="1" height="1" fill="#2c3ca4"/><rect x="10.5" y="15.5" width="1" height="1" fill="#2c3ca4"/><rect x="16.0" y="3.9" width="1" height="1" fill="#2c3ca4"/><rect x="2.8" y="20.5" width="1" height="1" fill="#2c3ca4"/><rect x="8.1" y="7.5" width="1" height="1" fill="#2c3ca4"/><rect x="23.9" y="12.6" width="1" height="1" fill="#2c3ca4"/><rect x="20.5" y="12.7" width="1" height="1" fill="#2c3ca4"/><rect x="16.2" y="5.7" width="1" height="1" fill="#2c3ca4"/><rect x="16.1" y="21.2" width="1" height="1" fill="#2c3ca4"/><rect x="13.7" y="18.4" width="1" height="1" fill="#2c3ca4"/><rect x="16.9" y="3.9" width="1" height="1" fill="#2c3ca4"/><rect x="18.8" y="15.2" width="1" height="1" fill="#2c3ca4"/><rect x="9.0" y="3.2" width="1" height="1" fill="#2c3ca4"/><rect x="21.1" y="12.7" width="1" height="1" fill="#2c3ca4"/><rect x="18.0" y="21.4" width="1" height="1" fill="#2c3ca4"/><rect x="17.9" y="22.3" width="1" height="1" fill="#2c3ca4"/><rect x="11.0" y="19.7" width="1" height="1" fill="#2c3ca4"/><rect x="12.1" y="22.6" width="1" height="1" fill="#2c3ca4"/><rect x="21.4" y="4.6" width="1" height="1" fill="#2c3ca4"/><rect x="5.4" y="7.2" width="1" height="1" fill="#2c3ca4"/><rect x="23.3" y="11.9" width="1" height="1" fill="#2c3ca4"/><rect x="16.0" y="9.0" width="1" height="1" fill="#2c3ca4"/><rect x="13.4" y="10.8" width="1" height="1" fill="#2c3ca4"/><rect x="10.0" y="15.1" width="1" height="1" fill="#2c3ca4"/><rect x="15.1" y="21.9" width="1" height="1" fill="#2c3ca4"/><rect x="17.2" y="22.5" width="1" height="1" fill="#2c3ca4"/><path d="M15,7l5.6,-4.6" stroke="#6c88e0" stroke-width="2" fill="none"/><ellipse cx="14.4" cy="7.2" rx="2.5" ry="2.1" transform="rotate(-30 14.4 7.2)" fill="#ffffff"/><path d="M7.4,15l3.4,-3.4" stroke="#5878d8" stroke-width="1.6" fill="none"/><circle cx="9.8" cy="13" r="0.8" fill="#e08040"/><ellipse cx="6.6" cy="15.8" rx="1.9" ry="1.7" fill="#ffffff"/><path d="M16,18.6l8.6,-8M19,19.6l6,-4" stroke="#5c7cdc" stroke-width="2.2" fill="none"/><path d="M13,19l5.4,-5.4l1.2,2.6l2.6,0.6l-3.2,3.6l-4.4,2.4z" fill="#e8f0ff"/><ellipse cx="15.2" cy="19.2" rx="3.2" ry="2.6" transform="rotate(-35 15.2 19.2)" fill="#fff8b0"/><circle cx="4.2" cy="9.6" r="1" fill="#d8e0c0"/><circle cx="17.6" cy="2.6" r="0.8" fill="#d0a0a0"/></g></g>
<g transform="translate(547,197.8) scale(1.012,1.024)" filter="url(#isoft)"><g clip-path="url(#ic)"><rect width="27" height="27" fill="#262c88"/><rect x="0.8" y="0.8" width="25.4" height="25.4" fill="#3444a4"/><path d="M0.8,0.8h25.4l-1.2,1.2h-23v23l-1.2,1.2z" fill="#8ca0e4"/><rect x="1.9" y="1.9" width="23.2" height="23.2" rx="1" fill="#0a0a60"/><path d="M0.9,0.9h4.2l-2.6,1.4l-1.6,2.6z" fill="#ffffff"/><rect x="0.8" y="0.8" width="25.4" height="25.4" fill="#0a0a60"/><path d="M1,1h5.4v1h-4.4v4.4h-1zM21,1.4h4v1.2h-4zM1.2,16h1v8h-1z" fill="#98b0f0"/><path d="M12.8,0.4l0.2,4.6l-4.6,2.4l4.4,2.8M0.6,11.6l5,3.4l3.6,-3.8l-2.4,-3.4l5,-2.6l4.4,3.4l0.8,2.6M4.6,26.6l3.4,-6l3.8,-0.8l1.8,6.6M18,15.6l2.4,4.6l6,6M18.4,9.4l2.4,-7.4M20.6,12.6l3.4,-1.6M11.8,9.6l-3.4,1.8M16.4,3.2l1.6,3.6" stroke="#c8a8e0" stroke-width="2.2" fill="none" stroke-linejoin="round" stroke-linecap="round"/><path d="M12.8,0.4l0.2,4.6l-4.6,2.4l4.4,2.8M0.6,11.6l5,3.4l3.6,-3.8l-2.4,-3.4l5,-2.6l4.4,3.4l0.8,2.6M4.6,26.6l3.4,-6l3.8,-0.8l1.8,6.6M18,15.6l2.4,4.6l6,6M18.4,9.4l2.4,-7.4M20.6,12.6l3.4,-1.6M11.8,9.6l-3.4,1.8M16.4,3.2l1.6,3.6" stroke="#ffffff" stroke-width="1.4" fill="none" stroke-linejoin="round" stroke-linecap="round"/><polygon points="18.6,6.7 19.0,10.8 23.1,10.7 19.8,13.1 21.9,16.6 18.2,14.9 16.2,18.5 15.8,14.4 11.7,14.5 15.0,12.1 12.9,8.6 16.6,10.3" fill="#fffcb8"/><circle cx="17.4" cy="12.6" r="3" fill="#fffcb8"/></g></g>
<g transform="translate(547,263.8) scale(1.012,1.024)" filter="url(#isoft)"><g clip-path="url(#ic)"><rect width="27" height="27" fill="#262c88"/><rect x="0.8" y="0.8" width="25.4" height="25.4" fill="#3444a4"/><path d="M0.8,0.8h25.4l-1.2,1.2h-23v23l-1.2,1.2z" fill="#8ca0e4"/><rect x="1.9" y="1.9" width="23.2" height="23.2" rx="1" fill="#0c0c66"/><path d="M0.9,0.9h4.2l-2.6,1.4l-1.6,2.6z" fill="#ffffff"/><rect x="1.6" y="18.4" width="23.8" height="7.2" fill="#b4dcf8"/><path d="M5,19.4l12,5M12,19l9,4.6M19,18.8l5.6,3.4" stroke="#ffffff" stroke-width="1.2" fill="none"/><polygon points="16.8,3.4 18.9,5.4 21.0,7.6 21.1,10.6 21.0,13.6 19.0,15.7 16.8,17.8 13.8,17.9 10.8,17.8 8.7,15.8 6.6,13.6 6.5,10.6 6.6,7.6 8.6,5.5 10.8,3.4 13.8,3.3" fill="#c8dcf8"/><polygon points="16.2,4.7 18.0,6.3 19.7,8.1 19.8,10.6 19.7,13.0 18.1,14.8 16.3,16.5 13.8,16.6 11.4,16.5 9.6,14.9 7.9,13.1 7.8,10.6 7.9,8.2 9.5,6.4 11.3,4.7 13.8,4.6" fill="#88b4f0"/><path d="M11.6,5.4l6.4,1.6l-1,3l-3.4,-1.2z" fill="#ffffff"/><path d="M10,8.6q2,-2.6 3,2.4q0,3 -2,3.6q-1.6,-3 -1,-6z" fill="#b8d8fc"/><path d="M13.6,8.8l1.8,3.4l3.2,-2" stroke="#4c6cc8" stroke-width="1" fill="none"/><circle cx="24.4" cy="10.6" r="1.3" fill="#ffffff"/><circle cx="3.6" cy="15" r="1.1" fill="#e8f0ff"/><circle cx="22" cy="16.6" r="0.7" fill="#c0c8f0"/></g></g>
<g transform="translate(547,329.6) scale(1.012,1.024)" filter="url(#isoft)"><g clip-path="url(#ic)"><rect width="27" height="27" fill="#262c88"/><rect x="0.8" y="0.8" width="25.4" height="25.4" fill="#3444a4"/><path d="M0.8,0.8h25.4l-1.2,1.2h-23v23l-1.2,1.2z" fill="#8ca0e4"/><rect x="1.9" y="1.9" width="23.2" height="23.2" rx="1" fill="#0a0a68"/><path d="M0.9,0.9h4.2l-2.6,1.4l-1.6,2.6z" fill="#ffffff"/><rect x="3" y="3.4" width="21" height="5" fill="#2838a0" opacity="0.55"/><polygon points="2.4,13 4.6,15.6 8.6,9.6 11,15.6 13.6,12.6 16,16.2 20.2,9.2 22.6,14.2 24.8,12.6 24.8,17.6 22.2,21.8 19.6,18.6 17,22.8 14,19.2 11.6,22.2 9,18.6 6.6,21.8 4,18.2 2.4,16.8" fill="#d8a050" stroke="#c08838" stroke-width="1.2" stroke-linejoin="round"/><polygon points="2.4,13.5 4.6,16.1 8.6,10.1 11,16.1 13.6,13.1 16,16.7 20.2,9.7 22.6,14.7 24.8,13.1 24.8,17.1 22.2,21.3 19.6,18.1 17,22.3 14,18.7 11.6,21.7 9,18.1 6.6,21.3 4,17.7 2.4,16.3" fill="#fff4a8"/><path d="M5,16.4l3.4,-3.6l2.4,3.2l3,-1.6l2.4,2.4l3.6,-4l2.4,3.4l-1.4,2.6l-3,-1.4l-2.6,2.6l-3,-2.4l-2.6,2l-2.6,-2z" fill="#fffbd0"/><ellipse cx="5.4" cy="7.8" rx="1" ry="2.6" fill="#fff0a0"/><ellipse cx="11.2" cy="6.2" rx="1" ry="1.8" fill="#fff0a0"/><ellipse cx="17.2" cy="7.6" rx="1" ry="2.7" fill="#fff0a0"/><ellipse cx="23.6" cy="9.4" rx="1" ry="2.4" fill="#fff0a0"/><ellipse cx="11.6" cy="5.2" rx="0.8" ry="1.1" fill="#d88838"/></g></g>
<g transform="translate(547,395.3) scale(1.012,1.024)" filter="url(#isoft)"><g clip-path="url(#ic)"><rect width="27" height="27" fill="#262c88"/><rect x="0.8" y="0.8" width="25.4" height="25.4" fill="#3444a4"/><path d="M0.8,0.8h25.4l-1.2,1.2h-23v23l-1.2,1.2z" fill="#8ca0e4"/><rect x="1.9" y="1.9" width="23.2" height="23.2" rx="1" fill="#0c0c64"/><path d="M0.9,0.9h4.2l-2.6,1.4l-1.6,2.6z" fill="#ffffff"/><rect x="2" y="2" width="23" height="23" fill="#5c78d0"/><ellipse cx="5.6" cy="4.4" rx="3.6" ry="1.5" transform="rotate(-35 5.6 4.4)" fill="#0a0a5c"/><ellipse cx="21.4" cy="4.4" rx="3.6" ry="1.5" transform="rotate(35 21.4 4.4)" fill="#0a0a5c"/><ellipse cx="5.6" cy="22.6" rx="3.6" ry="1.5" transform="rotate(35 5.6 22.6)" fill="#0a0a5c"/><ellipse cx="21.4" cy="22.6" rx="3.6" ry="1.5" transform="rotate(-35 21.4 22.6)" fill="#0a0a5c"/><ellipse cx="7.6" cy="2.8" rx="2.4" ry="0.9" transform="rotate(-35 7.6 2.8)" fill="#10106c"/><ellipse cx="19.4" cy="2.8" rx="2.4" ry="0.9" transform="rotate(35 19.4 2.8)" fill="#10106c"/><ellipse cx="7.6" cy="24.2" rx="2.4" ry="0.9" transform="rotate(35 7.6 24.2)" fill="#10106c"/><ellipse cx="19.4" cy="24.2" rx="2.4" ry="0.9" transform="rotate(-35 19.4 24.2)" fill="#10106c"/><ellipse cx="3" cy="7" rx="2.4" ry="0.9" transform="rotate(-50 3 7)" fill="#10106c"/><ellipse cx="24" cy="7" rx="2.4" ry="0.9" transform="rotate(50 24 7)" fill="#10106c"/><ellipse cx="3" cy="20" rx="2.4" ry="0.9" transform="rotate(50 3 20)" fill="#10106c"/><ellipse cx="24" cy="20" rx="2.4" ry="0.9" transform="rotate(-50 24 20)" fill="#10106c"/><path d="M13.5,1.6l9.6,17.4h-19.2zM13.5,25.4l-9.6,-17.4h19.2z" stroke="#a8c8f8" stroke-width="1.3" fill="none"/><path d="M13.5,3.2l2.2,4h-4.4zM13.5,23.8l2.2,-4h-4.4z" fill="#0a0a5c"/><path d="M2.4,13.5l2.6,-3.4l1.4,3.4l-1.4,3.4zM24.6,13.5l-2.6,-3.4l-1.4,3.4l1.4,3.4z" fill="#0c0c60"/><circle cx="6.2" cy="9.2" r="1.2" fill="#0a0a50"/><circle cx="20.8" cy="9.2" r="1.2" fill="#0a0a50"/><circle cx="6.2" cy="17.8" r="1.2" fill="#0a0a50"/><circle cx="20.8" cy="17.8" r="1.2" fill="#0a0a50"/><circle cx="13.5" cy="13.5" r="5.4" fill="#10106c"/><circle cx="13.5" cy="13.5" r="4.2" fill="none" stroke="#7c9ce8" stroke-width="1"/><circle cx="13.5" cy="13.5" r="2.4" fill="#4868d0"/><circle cx="13.5" cy="13.5" r="1" fill="#a8c8ff"/><circle cx="3.6" cy="18.8" r="1.1" fill="#ffe8f0"/><path d="M10.4,10.4q1.4,-1.6 2.8,-1.4" stroke="#f0c8d8" stroke-width="0.9" fill="none"/></g></g>
<g transform="translate(547,461.5) scale(1.012,1.024)" filter="url(#isoft)"><g clip-path="url(#ic)"><rect width="27" height="27" fill="#262c88"/><rect x="0.8" y="0.8" width="25.4" height="25.4" fill="#3444a4"/><path d="M0.8,0.8h25.4l-1.2,1.2h-23v23l-1.2,1.2z" fill="#8ca0e4"/><rect x="1.9" y="1.9" width="23.2" height="23.2" rx="1" fill="#0a0a64"/><path d="M0.9,0.9h4.2l-2.6,1.4l-1.6,2.6z" fill="#ffffff"/><rect x="2" y="2" width="23" height="23" fill="#2c44b0"/><ellipse cx="4.6" cy="4.4" rx="2.6" ry="2.4" fill="#0a0a5c"/><ellipse cx="10.6" cy="3.6" rx="2" ry="1.4" fill="#0a0a5c"/><ellipse cx="3.4" cy="11" rx="1.4" ry="2" fill="#0a0a5c"/><ellipse cx="4.4" cy="21" rx="2.2" ry="2" fill="#0a0a5c"/><ellipse cx="12" cy="23.4" rx="2.2" ry="1.2" fill="#0a0a5c"/><ellipse cx="22.4" cy="10" rx="1.6" ry="2.6" fill="#0a0a5c"/><ellipse cx="23" cy="20" rx="1.4" ry="2" fill="#0a0a5c"/><ellipse cx="14.6" cy="7" rx="1.4" ry="1.6" fill="#0a0a5c"/><ellipse cx="4.6" cy="16" rx="1.6" ry="1" fill="#0a0a5c"/><ellipse cx="17.4" cy="16.6" rx="1.2" ry="1.2" fill="#0a0a5c"/><path d="M3,8.6l8.6,6l8.6,9.4M11.6,5l-3.4,5.4l-5,4.6M12.6,12.4l-3,3.4l-2,6.6M14.4,17l8,7M22,6l-3.2,5M16,19.8l-6,4" stroke="#9cc0f0" stroke-width="1.2" fill="none"/><path d="M6,13.4l4,-2.4l3.4,1.6M10,14.6l3,2" stroke="#e8f0ff" stroke-width="1" fill="none"/><circle cx="18.2" cy="4.5" r="1.9" fill="#d82c14"/><circle cx="18.2" cy="4.5" r="1.04" fill="#f04820"/><circle cx="8.6" cy="10" r="2.2" fill="#c82810"/><circle cx="8.6" cy="10" r="1.21" fill="#f87818"/><circle cx="16.6" cy="12" r="2.3" fill="#e06010"/><circle cx="16.6" cy="12" r="1.26" fill="#f8b018"/><circle cx="10.8" cy="18.5" r="2.3" fill="#d83010"/><circle cx="10.8" cy="18.5" r="1.26" fill="#f86818"/><circle cx="19.6" cy="20.6" r="1.9" fill="#d04818"/><circle cx="19.6" cy="20.6" r="1.04" fill="#f07028"/></g></g>
<g transform="translate(547,527.3) scale(1.012,1.024)" filter="url(#isoft)"><g clip-path="url(#ic)"><rect width="27" height="27" fill="#2c2468"/><rect x="0.8" y="0.8" width="25.4" height="25.4" fill="#6858a8"/><path d="M0.8,0.8h25.4l-1.2,1.2h-23v23l-1.2,1.2z" fill="#b0a0e0"/><rect x="1.9" y="1.9" width="23.2" height="23.2" rx="1" fill="#100838"/><path d="M0.9,0.9h4.2l-2.6,1.4l-1.6,2.6z" fill="#b0a0e0"/><defs><radialGradient id="glN" cx="0.5" cy="0.45" r="0.5"><stop offset="0" stop-color="#6850b0" stop-opacity="0.95"/><stop offset="0.6" stop-color="#6850b0" stop-opacity="0.55"/><stop offset="1" stop-color="#6850b0" stop-opacity="0"/></radialGradient></defs><ellipse cx="13.5" cy="11.5" rx="12" ry="11" fill="url(#glN)"/><path d="M10.2,17.5h6.8l5,8.6h-16.8z" fill="#b4a4e4"/><path d="M11.8,17.5h3.6l3,8.6h-9.6z" fill="#fff0ec"/><path d="M7.6,13.6v-5.4q0,-5 6,-5q6,0 6,5v5.4h-2.6v-4.6q0,-3 -3.4,-3q-3.4,0 -3.4,3v4.6z" fill="#ffe0a0"/><path d="M10.2,13v-4q0,-3 3.4,-3q3.4,0 3.4,3v4h-1.2v-3.4q0,-2.2-2.2,-2.2q-2.2,0-2.2,2.2v3.4z" fill="#e89058"/><ellipse cx="4.6" cy="7.8" rx="2.1" ry="3.4" transform="rotate(-18 4.6 7.8)" fill="#e8c088"/><ellipse cx="22.4" cy="7.8" rx="2.1" ry="3.4" transform="rotate(18 22.4 7.8)" fill="#e8c088"/><ellipse cx="4.6" cy="7.6" rx="1.3" ry="2.5" transform="rotate(-18 4.6 7.6)" fill="#ffffff"/><ellipse cx="22.4" cy="7.6" rx="1.3" ry="2.5" transform="rotate(18 22.4 7.6)" fill="#ffffff"/><path d="M4.2,11.4q1,4.2 4.6,5M22.8,11.4q-1,4.2-4.6,5" stroke="#f8dc98" stroke-width="1.6" fill="none"/><ellipse cx="13.6" cy="16.2" rx="8.6" ry="3" fill="#d0c8ec"/><ellipse cx="13.6" cy="16" rx="6.8" ry="2.2" fill="#7088d8"/><ellipse cx="13.6" cy="16.1" rx="4.4" ry="1.4" fill="#ffffff"/><path d="M13.6,8.4l2.8,6.6h-5.6z" fill="#8ca4e8"/><path d="M13.6,9.2l1.3,5.4h-2.6z" fill="#fff4f0"/><circle cx="13.6" cy="9" r="1.4" fill="#d46040"/></g></g>
<g class="sk" filter="url(#tsoft)">
<text y="61"><tspan x="185.42" textLength="20.06" lengthAdjust="spacingAndGlyphs">Self</tspan> <tspan x="209.44" textLength="30.33" lengthAdjust="spacingAndGlyphs">Study</tspan> <tspan x="245" textLength="38.22" lengthAdjust="spacingAndGlyphs">Tactics</tspan> <tspan x="287.09" textLength="21.92" lengthAdjust="spacingAndGlyphs">(10)</tspan></text>
<text y="142"><tspan x="95.71" textLength="37.5" lengthAdjust="spacingAndGlyphs">Double</tspan> <tspan x="138.31" textLength="43.75" lengthAdjust="spacingAndGlyphs">Bowling</tspan> <tspan x="186.11" textLength="25.93" lengthAdjust="spacingAndGlyphs">Bash</tspan></text>
<text y="156"><tspan x="94.58" textLength="22.34" lengthAdjust="spacingAndGlyphs">(10)</tspan></text>
<text y="150"><tspan x="277.43" textLength="33.19" lengthAdjust="spacingAndGlyphs">Shield</tspan> <tspan x="314.72" textLength="32.37" lengthAdjust="spacingAndGlyphs">Chain</tspan> <tspan x="351.91" textLength="27.06" lengthAdjust="spacingAndGlyphs">Rush</tspan> <tspan x="382.58" textLength="22.23" lengthAdjust="spacingAndGlyphs">(10)</tspan></text>
<text y="283"><tspan x="96.21" textLength="29.38" lengthAdjust="spacingAndGlyphs">Mega</tspan> <tspan x="129.11" textLength="29.59" lengthAdjust="spacingAndGlyphs">Sonic</tspan> <tspan x="162.91" textLength="26.95" lengthAdjust="spacingAndGlyphs">Blow</tspan> <tspan x="193.58" textLength="22.23" lengthAdjust="spacingAndGlyphs">(10)</tspan></text>
<text y="283"><tspan x="278.63" textLength="32.46" lengthAdjust="spacingAndGlyphs">Spiral</tspan> <tspan x="316" textLength="33.42" lengthAdjust="spacingAndGlyphs">Pierce</tspan> <tspan x="354.21" textLength="23.96" lengthAdjust="spacingAndGlyphs">Max</tspan> <tspan x="381.89" textLength="21.92" lengthAdjust="spacingAndGlyphs">(10)</tspan></text>
<text y="415"><tspan x="189.91" textLength="49.15" lengthAdjust="spacingAndGlyphs">Breaking</tspan> <tspan x="243.31" textLength="29.2" lengthAdjust="spacingAndGlyphs">Limit</tspan> <tspan x="276.67" textLength="15.79" lengthAdjust="spacingAndGlyphs">(1)</tspan></text>
<text y="60"><tspan x="576.93" textLength="19.86" lengthAdjust="spacingAndGlyphs">Self</tspan> <tspan x="600.53" textLength="30.73" lengthAdjust="spacingAndGlyphs">Study</tspan> <tspan x="635.1" textLength="42.75" lengthAdjust="spacingAndGlyphs">Sorcery</tspan> <tspan x="681.89" textLength="21.92" lengthAdjust="spacingAndGlyphs">(10)</tspan></text>
<text y="143"><tspan x="582.11" textLength="38.68" lengthAdjust="spacingAndGlyphs">Meteor</tspan> <tspan x="624.8" textLength="34.39" lengthAdjust="spacingAndGlyphs">Storm</tspan> <tspan x="663.31" textLength="35.53" lengthAdjust="spacingAndGlyphs">Buster</tspan></text>
<text y="158"><tspan x="581.68" textLength="22.23" lengthAdjust="spacingAndGlyphs">(10)</tspan></text>
<text y="209"><tspan x="579.92" textLength="36.46" lengthAdjust="spacingAndGlyphs">Jupitel</tspan> <tspan x="621.2" textLength="80.19" lengthAdjust="spacingAndGlyphs">Thunderstorm</tspan></text>
<text y="224"><tspan x="580.48" textLength="22.23" lengthAdjust="spacingAndGlyphs">(10)</tspan></text>
<text y="281"><tspan x="580.52" textLength="25.08" lengthAdjust="spacingAndGlyphs">Jack</tspan> <tspan x="610.31" textLength="28.33" lengthAdjust="spacingAndGlyphs">Frost</tspan> <tspan x="643.11" textLength="27.05" lengthAdjust="spacingAndGlyphs">Nova</tspan> <tspan x="674.29" textLength="21.92" lengthAdjust="spacingAndGlyphs">(10)</tspan></text>
<text y="348"><tspan x="583.2" textLength="31.46" lengthAdjust="spacingAndGlyphs">Hell’s</tspan> <tspan x="618.61" textLength="29.79" lengthAdjust="spacingAndGlyphs">Drive</tspan> <tspan x="651.89" textLength="21.92" lengthAdjust="spacingAndGlyphs">(10)</tspan></text>
<text y="408"><tspan x="581.32" textLength="41.98" lengthAdjust="spacingAndGlyphs">Ground</tspan> <tspan x="627.82" textLength="62.57" lengthAdjust="spacingAndGlyphs">Gravitation</tspan></text>
<text y="422"><tspan x="581.68" textLength="22.23" lengthAdjust="spacingAndGlyphs">(10)</tspan></text>
<text y="473"><tspan x="580.9" textLength="42.81" lengthAdjust="spacingAndGlyphs">Napalm</tspan> <tspan x="628" textLength="37.03" lengthAdjust="spacingAndGlyphs">Vulcan</tspan> <tspan x="668.6" textLength="33.58" lengthAdjust="spacingAndGlyphs">Strike</tspan></text>
<text y="488"><tspan x="581.68" textLength="22.23" lengthAdjust="spacingAndGlyphs">(10)</tspan></text>
<text y="545"><tspan x="581.21" textLength="24.68" lengthAdjust="spacingAndGlyphs">Rule</tspan> <tspan x="610.31" textLength="32.24" lengthAdjust="spacingAndGlyphs">Break</tspan> <tspan x="646.8" textLength="15.15" lengthAdjust="spacingAndGlyphs">(1)</tspan></text>
</g>
<g class="lv" filter="url(#tsoft)">
<text x="139.25" y="109.4" textLength="21.88" lengthAdjust="spacingAndGlyphs">LV5</text>
<text x="300.84" y="109.4" textLength="22.1" lengthAdjust="spacingAndGlyphs">LV5</text>
<text x="139.26" y="242.8" textLength="21.56" lengthAdjust="spacingAndGlyphs">LV7</text>
<text x="300.83" y="245" textLength="22.21" lengthAdjust="spacingAndGlyphs">LV7</text>
<text x="233.82" y="376.9" textLength="22.43" lengthAdjust="spacingAndGlyphs">LV7</text>
<text x="111.32" y="398.8" textLength="22.43" lengthAdjust="spacingAndGlyphs">LV7</text>
<text x="332.33" y="399" textLength="22.32" lengthAdjust="spacingAndGlyphs">LV7</text>
<text x="722.93" y="136.3" textLength="22.2" lengthAdjust="spacingAndGlyphs">LV5</text>
<text x="722.93" y="201" textLength="22.2" lengthAdjust="spacingAndGlyphs">LV5</text>
<text x="722.93" y="268.1" textLength="22.2" lengthAdjust="spacingAndGlyphs">LV5</text>
<text x="722.93" y="333.8" textLength="22.2" lengthAdjust="spacingAndGlyphs">LV5</text>
<text x="722.93" y="400" textLength="22.2" lengthAdjust="spacingAndGlyphs">LV5</text>
<text x="722.93" y="466" textLength="22.2" lengthAdjust="spacingAndGlyphs">LV5</text>
<text x="506.73" y="531.5" textLength="22.2" lengthAdjust="spacingAndGlyphs">LV5</text>
</g>
</svg>
</body></html>
